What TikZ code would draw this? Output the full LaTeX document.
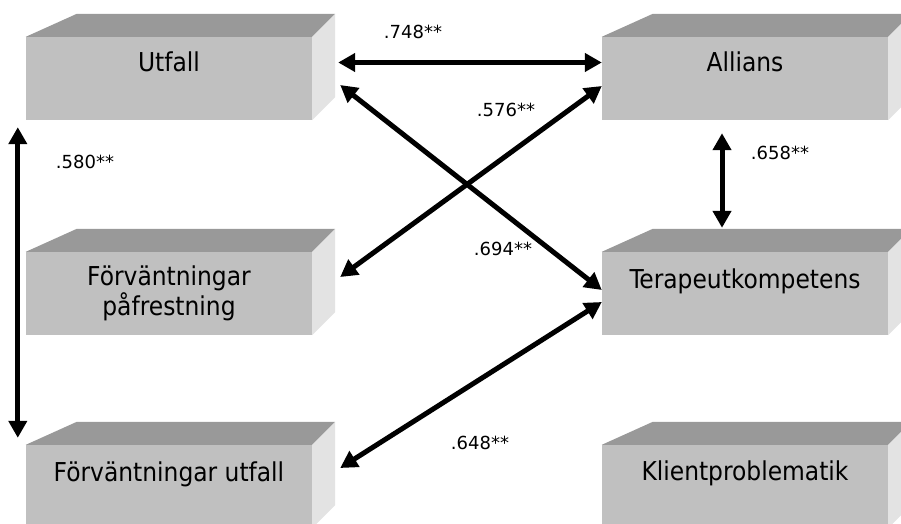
\documentclass[tikz,border=0pt]{standalone}
\usepackage{fontspec}
\setmainfont{DejaVu Sans Condensed}
\newfontfamily\lblfont{DejaVu Sans}
\usetikzlibrary{arrows.meta}
\definecolor{frontgray}{HTML}{C0C0C0}
\definecolor{topgray}{HTML}{999999}
\definecolor{sidegray}{HTML}{E3E3E3}
\tikzset{
  front/.style={fill=frontgray, draw=none, minimum width=286pt, minimum height=83pt, inner sep=0pt},
  boxtext/.style={font=\fontsize{26}{27}\selectfont, inner sep=0pt, align=center},
  lbl/.style={font=\lblfont\fontsize{18}{20}\selectfont, inner sep=0pt},
  dbl/.style={line width=5pt, {Triangle[length=17pt,width=18pt]}-{Triangle[length=17pt,width=18pt]}},
}
\newcommand\boxfaces[1]{%
  \fill[topgray] (#1.north west) -- ++(51,-23) -- ([shift={(23,-23)}]#1.north east) -- (#1.north east) -- cycle;
  \fill[sidegray] (#1.north east) -- ++(23,-23) -- ([shift={(23,-23)}]#1.south east) -- (#1.south east) -- cycle;}
\begin{document}
\begin{tikzpicture}[x=1pt,y=-1pt]
\useasboundingbox (0,0) rectangle (901,524);
\clip (0,0) rectangle (901,524);
% front faces
\node[front] (U) at (169,78.5) {};
\node[front] (A) at (745,78.5) {};
\node[front] (P) at (169,293.5) {};
\node[front] (T) at (745,293.5) {};
\node[front] (F) at (169,486.5) {};
\node[front] (K) at (745,486.5) {};
\boxfaces{U}\boxfaces{A}\boxfaces{P}\boxfaces{T}\boxfaces{F}\boxfaces{K}
% box texts
\node[boxtext, anchor=base] (tU) at (169,72) {Utfall};
\node[boxtext, anchor=base] (tA) at (745,72) {Allians};
\node[boxtext, anchor=north] (tP) at (169,266) {Förväntningar\\påfrestning};
\node[boxtext, anchor=base] (tT) at (745,288) {Terapeutkompetens};
\node[boxtext, anchor=base] (tF) at (169,481) {Förväntningar utfall};
\node[boxtext, anchor=base] (tK) at (745,480) {Klientproblematik};
% connectors
\draw[dbl] ([xshift=26pt,yshift=16pt]U.east) -- ([yshift=16pt]A.west);
\draw[dbl] ([xshift=28pt,yshift=-6.5pt]U.east) -- ([yshift=3.5pt]T.west);
\draw[dbl] ([yshift=-7.5pt]A.west) -- ([xshift=28pt,yshift=16.5pt]P.east);
\draw[dbl] ([yshift=-8.5pt]T.west) -- ([xshift=28pt,yshift=18.5pt]F.east);
\draw[dbl] ([xshift=-8pt,yshift=-7pt]U.south west) -- ([xshift=-8pt,yshift=7pt]F.north west);
\draw[dbl] ([xshift=-23pt,yshift=-13pt]A.south) -- ([xshift=-23pt,yshift=24pt]T.north);
% labels
\node[lbl] (l1) at (413,31.5) {.748**};
\node[lbl] (l2) at (506,110) {.576**};
\node[lbl] (l3) at (503,249) {.694**};
\node[lbl] (l4) at (85,162) {.580**};
\node[lbl] (l5) at (780,153) {.658**};
\node[lbl] (l6) at (480,443) {.648**};
\end{tikzpicture}
\end{document}
